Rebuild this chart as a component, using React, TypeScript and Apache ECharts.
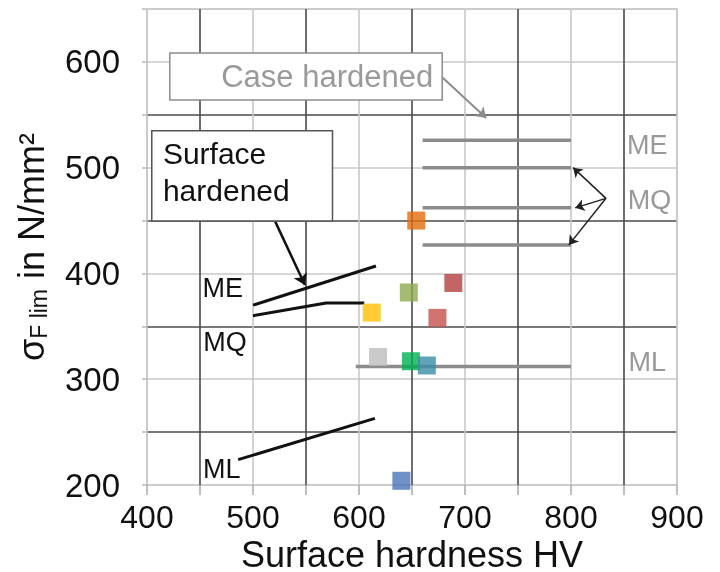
import React, { useEffect, useRef } from "react";
import * as echarts from "echarts";

// ---- data ----
const xRange = [400, 900];
const yRange = [200, 650];

const pointX = [654, 689, 647, 674, 612, 618, 649, 664, 640];
const pointY = [450, 391, 382, 358, 363, 321, 317, 313, 204];
const pointColors = ["#E46C0A", "#B2403E", "#8EA94F", "#C4504D", "#FFC000", "#BDBDBD", "#00B050", "#3A8DA6", "#4A74B8"];

// case hardened (gray) lines
const caseME = [[660, 526], [800, 526]];
const caseMQ1 = [[660, 500], [800, 500]];
const caseMQ2 = [[660, 462], [800, 462]];
const caseMQ3 = [[660, 427], [800, 427]];
const caseML = [[597, 312], [800, 312]];

// surface hardened (black) lines
const surfME = [[500, 370], [616, 407]];
const surfMQ = [[500, 360], [569, 372], [605, 372]];
const surfML = [[486, 224], [615, 263]];

// arrows [from, to]
const mqArrows = [
  [[833, 471], [802, 500]],
  [[833, 471], [804, 462]],
  [[833, 471], [798, 427]],
];
const caseArrow = [[679, 585], [720, 547]];
const surfArrow = [[521, 449], [549, 389]];

const FONT = 'Arial, "Liberation Sans", sans-serif';
const LIGHT = "#c8c8c8";
const DARK = "#4a4a4a";

export default function App() {
  const ref = useRef<HTMLDivElement>(null);
  useEffect(() => {
    if (!ref.current) return;
    const chart = echarts.init(ref.current, null, { renderer: "svg" });
    const lineSeries = (data: number[][], color: string, width: number) => ({
      type: "line",
      data,
      symbol: "none",
      silent: true,
      lineStyle: { color, width },
      z: 3,
    });
    const arrowLines = (arr: number[][][], color: string, width: number, size: number) => ({
      type: "line",
      data: [],
      markLine: {
        silent: true,
        symbol: ["none", "arrow"],
        symbolSize: size,
        label: { show: false },
        itemStyle: { color },
        lineStyle: { color, width, type: "solid" },
        data: arr.map((a) => [{ coord: a[0] }, { coord: a[1] }]),
      },
      z: 4,
    });
    const option: any = {
      animation: false,
      textStyle: { fontFamily: FONT },
      grid: {
        left: 147,
        right: 43,
        top: 9,
        bottom: 87,
        containLabel: false,
        outerBoundsMode: "none",
        show: true,
        borderColor: LIGHT,
        borderWidth: 1.5,
      },
      xAxis: {
        type: "value",
        min: xRange[0],
        max: xRange[1],
        interval: 50,
        axisLine: { show: false },
        axisTick: { show: true, length: 10, lineStyle: { color: "#aaa", width: 1.5 } },
        axisLabel: {
          fontSize: 32,
          lineHeight: 30,
          color: "#111",
          margin: 17,
          formatter: (v: number) => (v % 100 === 0 ? String(v) : ""),
        },
        splitLine: { show: true, lineStyle: { color: [LIGHT, DARK], width: 1.6 } },
        name: "Surface hardness HV",
        nameLocation: "middle",
        nameGap: 52,
        nameMoveOverlap: false,
        nameTextStyle: { fontSize: 36, lineHeight: 34, color: "#111", fontFamily: FONT },
      },
      yAxis: {
        type: "value",
        min: yRange[0],
        max: yRange[1],
        interval: 50,
        axisLine: { show: false },
        axisTick: { show: true, length: 5, lineStyle: { color: "#bbb", width: 1.5 } },
        axisLabel: {
          fontSize: 33,
          color: "#111",
          margin: 27,
          formatter: (v: number) => (v % 100 === 0 && v <= 600 ? String(v) : ""),
        },
        splitLine: {
          show: true,
          lineStyle: { color: [LIGHT, DARK, LIGHT, DARK, LIGHT, DARK, LIGHT, DARK, LIGHT, LIGHT], width: 1.6 },
        },
        name: "{a|σ}{b|F lim}{a| in N/mm²}",
        nameLocation: "middle",
        nameGap: 97,
        nameRotate: 90,
        nameMoveOverlap: false,
        nameTextStyle: {
          fontSize: 36,
          color: "#111",
          fontFamily: FONT,
          rich: {
            a: { fontSize: 36, color: "#111", fontFamily: FONT },
            b: { fontSize: 23, color: "#111", fontFamily: FONT, verticalAlign: "bottom", padding: [14, 0, 0, 0] },
          },
        },
      },
      series: [
        lineSeries(caseME, "#8c8c8c", 3.5),
        lineSeries(caseMQ1, "#8c8c8c", 3.5),
        lineSeries(caseMQ2, "#8c8c8c", 3.5),
        lineSeries(caseMQ3, "#8c8c8c", 3.5),
        lineSeries(caseML, "#8c8c8c", 3.5),
        lineSeries(surfME, "#111", 3),
        lineSeries(surfMQ, "#111", 3),
        lineSeries(surfML, "#111", 3),
        arrowLines(mqArrows, "#222", 1.5, 9),
        arrowLines([caseArrow], "#8c8c8c", 2, 10),
        arrowLines([surfArrow], "#111", 2.5, 11),
        {
          type: "scatter",
          symbol: "rect",
          symbolSize: 18,
          z: 6,
          data: pointX.map((x, i) => ({ value: [x, pointY[i]], itemStyle: { color: pointColors[i] } })),
        },
      ],
    };
    chart.setOption(option);

    const px = (x: number, y: number) => chart.convertToPixel({ gridIndex: 0 }, [x, y]) as number[];
    const textAt = (x: number, y: number, text: string, color: string, size: number) => {
      const p = px(x, y);
      return {
        type: "text",
        x: p[0],
        y: p[1],
        z: 20,
        style: { text, fill: color, fontSize: size, fontFamily: FONT, align: "center", verticalAlign: "middle" },
      };
    };
    const box = (x1: number, y1: number, x2: number, y2: number, stroke: string) => {
      const a = px(x1, y1);
      const b = px(x2, y2);
      return {
        type: "rect",
        z: 15,
        shape: { x: a[0], y: a[1], width: b[0] - a[0], height: b[1] - a[1] },
        style: { fill: "#fff", stroke, lineWidth: 1.5 },
      };
    };
    const caseBox = box(421.5, 608.5, 678.5, 564, "#8c8c8c");
    const surfBox = box(404.5, 535, 575, 449.5, "#555");
    const st = px(415, 531);
    chart.setOption({
      graphic: [
        caseBox,
        textAt(570, 586, "Case hardened", "#9a9a9a", 31),
        surfBox,
        {
          type: "text",
          x: st[0],
          y: st[1],
          z: 20,
          style: {
            text: "Surface\nhardened",
            fill: "#111",
            fontSize: 30,
            lineHeight: 37,
            fontFamily: FONT,
            align: "left",
            verticalAlign: "top",
          },
        },
        textAt(872, 521, "ME", "#999", 27),
        textAt(874, 469, "MQ", "#999", 27),
        textAt(872, 316, "ML", "#999", 27),
        textAt(471.5, 386, "ME", "#111", 27),
        textAt(473.5, 335, "MQ", "#111", 27),
        textAt(470.5, 215, "ML", "#111", 27),
      ],
    });
    return () => chart.dispose();
  }, []);
  return <div ref={ref} style={{ position: "fixed", left: 0, top: 0, width: 720, height: 572 }} />;
}
